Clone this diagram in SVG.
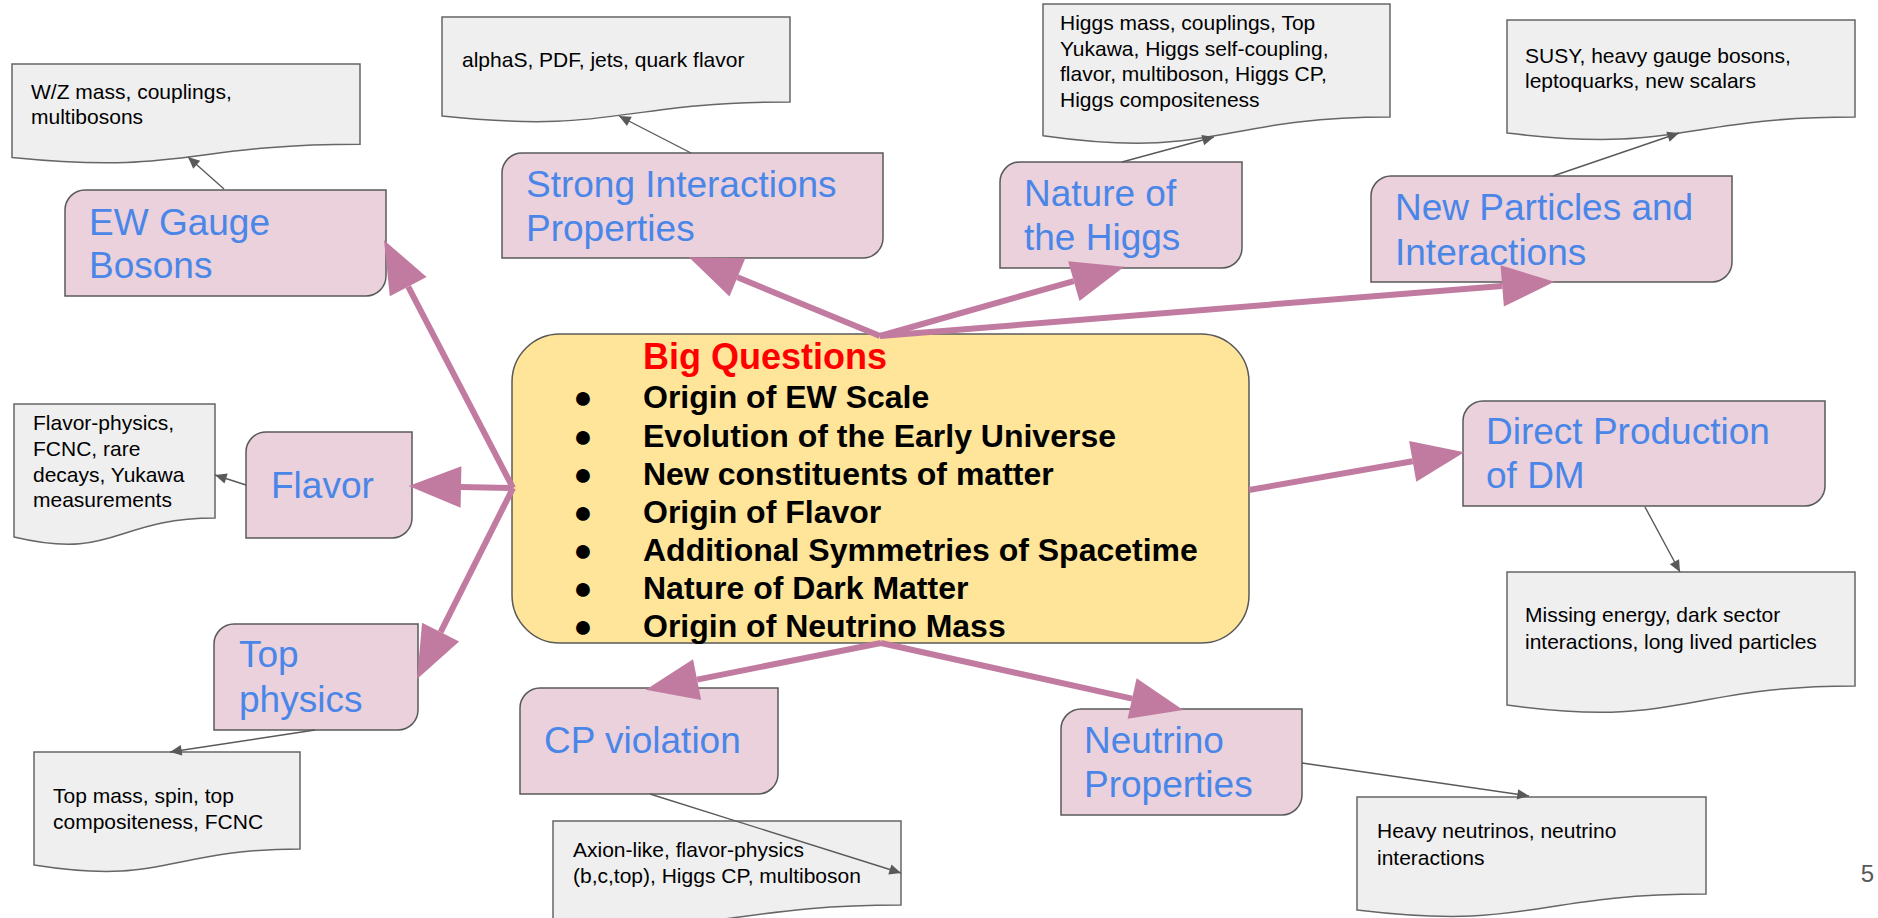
<svg xmlns="http://www.w3.org/2000/svg" width="1878" height="918" viewBox="0 0 1878 918">
<defs>
<style>
.topic{fill:#ead1dc;stroke:#595959;stroke-width:1.5}
.info{fill:#efefef;stroke:#666666;stroke-width:1.5}
.tt{font-family:"Liberation Sans",Arial,sans-serif;font-size:37px;fill:#4a86e8}
.it{font-family:"Liberation Sans",Arial,sans-serif;font-size:21px;fill:#000000}
.bq{font-family:"Liberation Sans",Arial,sans-serif;font-size:32px;font-weight:bold;fill:#000000}
.thick{stroke:#c27ba0;stroke-width:6;fill:none;marker-end:url(#bigHead)}
.thin{stroke:#595959;stroke-width:1.4;fill:none;marker-end:url(#smallHead)}
</style>
<marker id="bigHead" markerUnits="userSpaceOnUse" markerWidth="60" markerHeight="60" refX="0" refY="0" viewBox="-2 -25 55 50" orient="auto" overflow="visible">
<path d="M0,-19 L48,0 L0,19 Z" fill="#c27ba0"/>
</marker>
<marker id="smallHead" markerUnits="userSpaceOnUse" markerWidth="14" markerHeight="14" refX="10" refY="0" viewBox="-1 -6 12 12" orient="auto" overflow="visible">
<path d="M0,-4.5 L10,0 L0,4.5 Z" fill="#595959"/>
</marker>
</defs>
<rect width="1878" height="918" fill="#ffffff"/>

<g id="info-wz">
<path class="info" d="M12,64 H360 V144.2 C186,144.2 186,174.75 12,157.4 Z"/>
<text class="it" x="31" y="99">W/Z mass, couplings,</text>
<text class="it" x="31" y="124">multibosons</text>
</g>
<g id="info-strong">
<path class="info" d="M442,17 H790 V102 C616,102 616,134.4 442,116 Z"/>
<text class="it" x="462" y="67">alphaS, PDF, jets, quark flavor</text>
</g>
<g id="info-higgs">
<path class="info" d="M1043,4 H1390 V117 C1216.5,117 1216.5,160.2 1043,135.7 Z"/>
<text class="it" x="1060" y="30">Higgs mass, couplings, Top</text>
<text class="it" x="1060" y="56">Yukawa, Higgs self-coupling,</text>
<text class="it" x="1060" y="81">flavor, multiboson, Higgs CP,</text>
<text class="it" x="1060" y="107">Higgs compositeness</text>
</g>
<g id="info-newparticles">
<path class="info" d="M1507,20 H1855 V117 C1681,117 1681,154 1507,133 Z"/>
<text class="it" x="1525" y="63">SUSY, heavy gauge bosons,</text>
<text class="it" x="1525" y="88">leptoquarks, new scalars</text>
</g>
<g id="info-flavor">
<path class="info" d="M14,404 H215 V518 C114.5,518 114.5,561 14,537 Z"/>
<text class="it" x="33" y="430">Flavor-physics,</text>
<text class="it" x="33" y="456">FCNC, rare</text>
<text class="it" x="33" y="482">decays, Yukawa</text>
<text class="it" x="33" y="507">measurements</text>
</g>
<g id="info-dm">
<path class="info" d="M1507,572 H1855 V686 C1681,686 1681,729 1507,705 Z"/>
<text class="it" x="1525" y="622">Missing energy, dark sector</text>
<text class="it" x="1525" y="649">interactions, long lived particles</text>
</g>
<g id="info-top">
<path class="info" d="M34,752 H300 V849 C167,849 167,886 34,865 Z"/>
<text class="it" x="53" y="803">Top mass, spin, top</text>
<text class="it" x="53" y="829">compositeness, FCNC</text>
</g>
<g id="info-cp">
<path class="info" d="M553,821 H901 V905 C727,905 727,937 553,919 Z"/>
<text class="it" x="573" y="857">Axion-like, flavor-physics</text>
<text class="it" x="573" y="883">(b,c,top), Higgs CP, multiboson</text>
</g>
<g id="info-neutrino">
<path class="info" d="M1357,797 H1706 V894 C1531.5,894 1531.5,931 1357,910 Z"/>
<text class="it" x="1377" y="838">Heavy neutrinos, neutrino</text>
<text class="it" x="1377" y="865">interactions</text>
</g>

<g id="node-ew">
<path class="topic" d="M85,190 H386 V276 A20,20 0 0 1 366,296 H65 V210 A20,20 0 0 1 85,190 Z"/>
<text class="tt" x="89" y="235">EW Gauge</text>
<text class="tt" x="89" y="278">Bosons</text>
</g>
<g id="node-strong">
<path class="topic" d="M522,153 H883 V238 A20,20 0 0 1 863,258 H502 V173 A20,20 0 0 1 522,153 Z"/>
<text class="tt" x="526" y="197">Strong Interactions</text>
<text class="tt" x="526" y="241">Properties</text>
</g>
<g id="node-higgs">
<path class="topic" d="M1020,162 H1242 V248 A20,20 0 0 1 1222,268 H1000 V182 A20,20 0 0 1 1020,162 Z"/>
<text class="tt" x="1024" y="206">Nature of</text>
<text class="tt" x="1024" y="250">the Higgs</text>
</g>
<g id="node-newparticles">
<path class="topic" d="M1391,176 H1732 V262 A20,20 0 0 1 1712,282 H1371 V196 A20,20 0 0 1 1391,176 Z"/>
<text class="tt" x="1395" y="220">New Particles and</text>
<text class="tt" x="1395" y="265">Interactions</text>
</g>
<g id="node-flavor">
<path class="topic" d="M266,432 H412 V518 A20,20 0 0 1 392,538 H246 V452 A20,20 0 0 1 266,432 Z"/>
<text class="tt" x="271" y="498">Flavor</text>
</g>
<g id="node-dm">
<path class="topic" d="M1483,401 H1825 V486 A20,20 0 0 1 1805,506 H1463 V421 A20,20 0 0 1 1483,401 Z"/>
<text class="tt" x="1486" y="444">Direct Production</text>
<text class="tt" x="1486" y="488">of DM</text>
</g>
<g id="node-top">
<path class="topic" d="M234,624 H418 V710 A20,20 0 0 1 398,730 H214 V644 A20,20 0 0 1 234,624 Z"/>
<text class="tt" x="239" y="667">Top</text>
<text class="tt" x="239" y="712">physics</text>
</g>
<g id="node-cp">
<path class="topic" d="M540,688 H778 V774 A20,20 0 0 1 758,794 H520 V708 A20,20 0 0 1 540,688 Z"/>
<text class="tt" x="544" y="753">CP violation</text>
</g>
<g id="node-neutrino">
<path class="topic" d="M1081,709 H1302 V795 A20,20 0 0 1 1282,815 H1061 V729 A20,20 0 0 1 1081,709 Z"/>
<text class="tt" x="1084" y="753">Neutrino</text>
<text class="tt" x="1084" y="797">Properties</text>
</g>

<g id="node-bigquestions">
<rect x="512" y="334" width="737" height="309" rx="48" ry="48" fill="#ffe599" stroke="#595959" stroke-width="1.5"/>
<text x="643" y="369" font-family="Liberation Sans, Arial, sans-serif" font-size="36" font-weight="bold" fill="#ff0000">Big Questions</text>
<text class="bq" x="583" y="408" text-anchor="middle">●</text>
<text class="bq" x="643" y="408">Origin of EW Scale</text>
<text class="bq" x="583" y="447" text-anchor="middle">●</text>
<text class="bq" x="643" y="447">Evolution of the Early Universe</text>
<text class="bq" x="583" y="485" text-anchor="middle">●</text>
<text class="bq" x="643" y="485">New constituents of matter</text>
<text class="bq" x="583" y="523" text-anchor="middle">●</text>
<text class="bq" x="643" y="523">Origin of Flavor</text>
<text class="bq" x="583" y="561" text-anchor="middle">●</text>
<text class="bq" x="643" y="561">Additional Symmetries of Spacetime</text>
<text class="bq" x="583" y="599" text-anchor="middle">●</text>
<text class="bq" x="643" y="599">Nature of Dark Matter</text>
<text class="bq" x="583" y="637" text-anchor="middle">●</text>
<text class="bq" x="643" y="637">Origin of Neutrino Mass</text>
</g>

<g id="connectors">
<line class="thick" x1="513" y1="488" x2="408.2" y2="286.6"/>
<line class="thick" x1="513" y1="488" x2="461" y2="487"/>
<line class="thick" x1="513" y1="488" x2="440.6" y2="632.1"/>
<line class="thick" x1="880" y1="336" x2="737.4" y2="277.3"/>
<line class="thick" x1="880" y1="336" x2="1073.8" y2="281.1"/>
<line class="thick" x1="880" y1="336" x2="1502.2" y2="285.9"/>
<line class="thick" x1="1249" y1="490" x2="1412.7" y2="461.3"/>
<line class="thick" x1="881" y1="643" x2="697.1" y2="679.6"/>
<line class="thick" x1="881" y1="643" x2="1132.1" y2="698.6"/>
<line class="thin" x1="224" y1="189" x2="188" y2="157"/>
<line class="thin" x1="691" y1="153" x2="619" y2="116"/>
<line class="thin" x1="1122" y1="162" x2="1214" y2="137"/>
<line class="thin" x1="1553" y1="176" x2="1679" y2="133"/>
<line class="thin" x1="246" y1="485" x2="215" y2="475"/>
<line class="thin" x1="315" y1="730" x2="170" y2="752"/>
<line class="thin" x1="1645" y1="507" x2="1680" y2="572"/>
<line class="thin" x1="650" y1="794" x2="901" y2="873"/>
<line class="thin" x1="1302" y1="763" x2="1529" y2="796"/>
</g>

<text x="1874" y="882" text-anchor="end" font-family="Liberation Sans, Arial, sans-serif" font-size="24" fill="#595959">5</text>
</svg>
